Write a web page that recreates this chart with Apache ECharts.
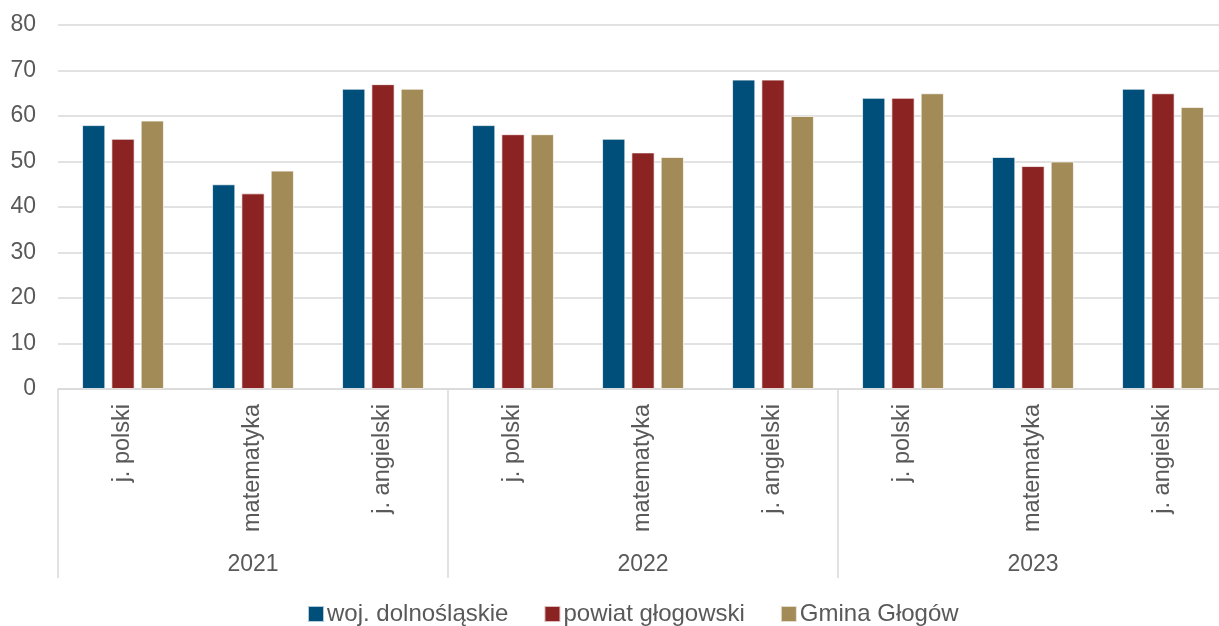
<!DOCTYPE html>
<html>
<head>
<meta charset="utf-8">
<script src="https://cdn.jsdelivr.net/npm/echarts@6/dist/echarts.min.js"></script>
<style>
html, body { margin: 0; padding: 0; background: #fff; }
#chart { width: 1219px; height: 626px; }
</style>
</head>
<body>
<div id="chart"></div>
<script>
var subjects = ["j. polski", "matematyka", "j. angielski", "j. polski", "matematyka", "j. angielski", "j. polski", "matematyka", "j. angielski"];
var years = ["2021", "2022", "2023"];
var woj = [58, 45, 66, 58, 55, 68, 64, 51, 66];
var powiat = [55, 43, 67, 56, 52, 68, 64, 49, 65];
var gmina = [59, 48, 66, 56, 51, 60, 65, 50, 62];

var textColor = "#595959";
var font = "Liberation Sans, Arial, sans-serif";

var barStyle = function (color) {
    return {
        color: color,
        borderColor: "rgba(255,255,255,0.7)",
        borderWidth: 1
    };
};

var option = {
    animation: false,
    textStyle: { fontFamily: font },
    // plot runs a bit past the right edge, as in the original
    grid: { left: 58, top: 25, width: 1170, height: 364, containLabel: false, outerBoundsMode: "none" },
    legend: {
        bottom: 0,
        left: 307,
        padding: 0,
        icon: "rect",
        itemWidth: 16,
        itemHeight: 16,
        itemGap: 35,
        textStyle: { fontSize: 24, color: textColor, fontFamily: font, padding: [0, 0, 0, -2] },
        data: ["woj. dolnośląskie", "powiat głogowski", "Gmina Głogów"]
    },
    xAxis: [
        {
            type: "category",
            data: subjects,
            position: "bottom",
            axisLine: { lineStyle: { color: "#d9d9d9", width: 1.5 } },
            axisTick: { show: false },
            axisLabel: {
                rotate: 90,
                margin: 15,
                fontSize: 23.5,
                color: textColor,
                fontFamily: font,
                interval: 0
            }
        },
        {
            type: "category",
            data: years,
            position: "bottom",
            offset: 0,
            axisLine: { show: false },
            axisTick: { show: true, length: 189, lineStyle: { color: "#d9d9d9", width: 1.5 } },
            axisLabel: {
                margin: 164,
                fontSize: 23,
                color: textColor,
                fontFamily: font
            }
        }
    ],
    yAxis: {
        type: "value",
        min: 0,
        max: 80,
        interval: 10,
        axisLine: { show: false },
        axisTick: { show: false },
        axisLabel: { fontSize: 23, color: textColor, margin: 22, fontFamily: font },
        splitLine: { lineStyle: { color: "#d9d9d9", width: 1.5 } }
    },
    series: [
        {
            name: "woj. dolnośląskie",
            type: "bar",
            data: woj,
            barGap: "26%",
            barCategoryGap: "37%",
            itemStyle: barStyle("#004f7a")
        },
        {
            name: "powiat głogowski",
            type: "bar",
            data: powiat,
            barGap: "26%",
            barCategoryGap: "37%",
            itemStyle: barStyle("#8b2323")
        },
        {
            name: "Gmina Głogów",
            type: "bar",
            data: gmina,
            barGap: "26%",
            barCategoryGap: "37%",
            itemStyle: barStyle("#a38b57")
        }
    ]
};

var chart = echarts.init(document.getElementById("chart"));
chart.setOption(option);
</script>
</body>
</html>
